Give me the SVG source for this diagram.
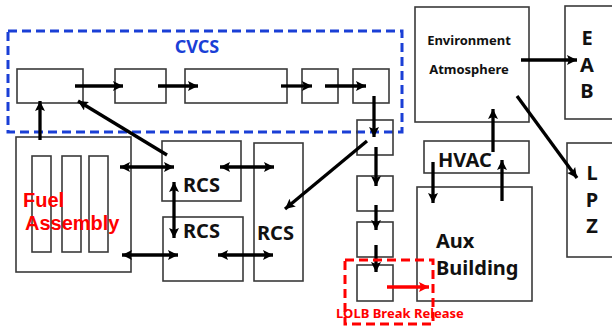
<svg xmlns="http://www.w3.org/2000/svg" width="612" height="327" viewBox="0 0 612 327">
<style>
.box{fill:#fff;stroke:#3a3a3a;stroke-width:1.6}
.nb{fill:none;stroke:#3a3a3a;stroke-width:1.6}
.t{font-family:"Noto Sans","Open Sans",sans-serif;font-weight:bold;fill:#111}
.big{font-size:20px}
.red{fill:#ff0000}
.lib{font-family:"Liberation Sans",Arial,sans-serif}
.ar{stroke:#000;stroke-width:3.3;fill:none;marker-end:url(#ah)}
.dar{stroke:#000;stroke-width:3.3;fill:none;marker-end:url(#ah);marker-start:url(#ah)}
.rar{stroke:#ff0000;stroke-width:3.3;fill:none;marker-end:url(#rh)}
</style>
<defs>
<marker id="ah" viewBox="0 0 10 10" refX="10" refY="5" markerWidth="11" markerHeight="10" markerUnits="userSpaceOnUse" orient="auto-start-reverse">
<path d="M0,0 L10,5 L0,10 L2,5 Z" fill="#000"/>
</marker>
<marker id="rh" viewBox="0 0 10 10" refX="10" refY="5" markerWidth="11" markerHeight="10" markerUnits="userSpaceOnUse" orient="auto">
<path d="M0,0 L10,5 L0,10 L2,5 Z" fill="#ff0000"/>
</marker>
</defs>
<rect width="612" height="327" fill="#fff"/>

<g id="cvcs">
<rect x="8" y="31" width="394" height="101" fill="none" stroke="#1a3fd6" stroke-width="3" stroke-dasharray="9,5"/>
<text class="t" x="197" y="53" font-size="18" text-anchor="middle" style="fill:#1a3fd6">CVCS</text>
</g>
<g id="cvcs-box1"><rect class="box" x="17" y="69" width="66" height="34"/></g>
<g id="cvcs-box2"><rect class="box" x="115" y="69" width="51" height="34"/></g>
<g id="cvcs-box3"><rect class="box" x="185" y="69" width="102" height="34"/></g>
<g id="cvcs-box4"><rect class="box" x="302" y="69" width="36" height="34"/></g>
<g id="cvcs-box5"><rect class="box" x="353" y="69" width="36" height="34"/></g>

<g id="line-box6"><rect class="nb" x="357" y="120" width="36" height="35"/></g>
<g id="line-box7"><rect class="box" x="357" y="176" width="36" height="35"/></g>
<g id="line-box8"><rect class="box" x="357" y="222" width="36" height="35"/></g>
<g id="line-box9"><rect class="box" x="357" y="265" width="36" height="36"/></g>

<g id="fuel-assembly">
<rect class="box" x="16" y="137" width="115" height="135"/>
<rect class="box" x="32" y="156" width="19" height="96"/>
<rect class="box" x="62" y="156" width="19" height="96"/>
<rect class="box" x="89" y="156" width="19" height="96"/>
<text class="t lib big red" x="23" y="206.5">Fuel</text>
<text class="t lib big red" x="25" y="230">Assembly</text>
</g>

<g id="rcs1"><rect class="box" x="162" y="141" width="79" height="60"/><text class="t big" x="183" y="192">RCS</text></g>
<g id="rcs2"><rect class="box" x="163" y="217" width="80" height="64"/><text class="t big" x="183" y="238">RCS</text></g>
<g id="rcs3"><rect class="box" x="254" y="143" width="49" height="138"/><text class="t big" x="257" y="240">RCS</text></g>

<g id="environment">
<rect class="box" x="415" y="7" width="114" height="115"/>
<text class="t" x="469" y="45" font-size="13" text-anchor="middle">Environment</text>
<text class="t" x="469" y="74" font-size="13" text-anchor="middle">Atmosphere</text>
</g>
<g id="eab">
<rect class="box" x="565" y="6" width="60" height="113"/>
<text class="t big" x="587" y="45" text-anchor="middle">E</text>
<text class="t big" x="587" y="72" text-anchor="middle">A</text>
<text class="t big" x="587" y="98" text-anchor="middle">B</text>
</g>
<g id="lpz">
<rect class="box" x="567" y="143" width="60" height="114"/>
<text class="t big" x="592" y="180" text-anchor="middle">L</text>
<text class="t big" x="592" y="207" text-anchor="middle">P</text>
<text class="t big" x="592" y="233" text-anchor="middle">Z</text>
</g>
<g id="hvac"><rect class="box" x="424" y="141" width="105" height="32"/><text class="t big" x="438" y="167">HVAC</text></g>
<g id="aux-building">
<rect class="box" x="417" y="187" width="115" height="114"/>
<text class="t big" x="436" y="248">Aux</text>
<text class="t big" x="436" y="275">Building</text>
</g>

<g id="connectors">
<line class="ar" x1="75" y1="86" x2="123" y2="86"/>
<line class="ar" x1="158" y1="86" x2="198" y2="86"/>
<line class="ar" x1="281" y1="86" x2="312" y2="86"/>
<line class="ar" x1="325" y1="86" x2="366" y2="86"/>
<line class="ar" x1="374" y1="96" x2="374" y2="137"/>
<line class="ar" x1="376" y1="147" x2="376" y2="186"/>
<line class="ar" x1="376" y1="205" x2="376" y2="230"/>
<line class="ar" x1="376" y1="245" x2="376" y2="272"/>
<line class="ar" x1="367" y1="141" x2="285" y2="209"/>
<line class="ar" x1="40" y1="140" x2="40" y2="101"/>
<line class="ar" x1="167" y1="155" x2="78" y2="101"/>
<line class="dar" x1="120" y1="167" x2="174" y2="167"/>
<line class="dar" x1="220" y1="167" x2="274" y2="167"/>
<line class="dar" x1="174" y1="182" x2="174" y2="238"/>
<line class="dar" x1="122" y1="255" x2="178" y2="255"/>
<line class="dar" x1="218" y1="255" x2="273" y2="255"/>
<line class="ar" x1="433" y1="162" x2="433" y2="203"/>
<line class="ar" x1="502" y1="201" x2="502" y2="160"/>
<line class="ar" x1="493" y1="152" x2="493" y2="109"/>
<line class="ar" x1="521" y1="60" x2="577" y2="60"/>
<line class="ar" x1="517" y1="96" x2="577" y2="178"/>
</g>

<g id="lolb-break">
<rect x="345" y="260" width="88" height="64" fill="none" stroke="#ff0000" stroke-width="3" stroke-dasharray="9,5"/>
<line class="rar" x1="387" y1="287" x2="429" y2="287"/>
<text class="t red" x="400" y="318" font-size="13" text-anchor="middle">LOLB Break Release</text>
</g>
</svg>
